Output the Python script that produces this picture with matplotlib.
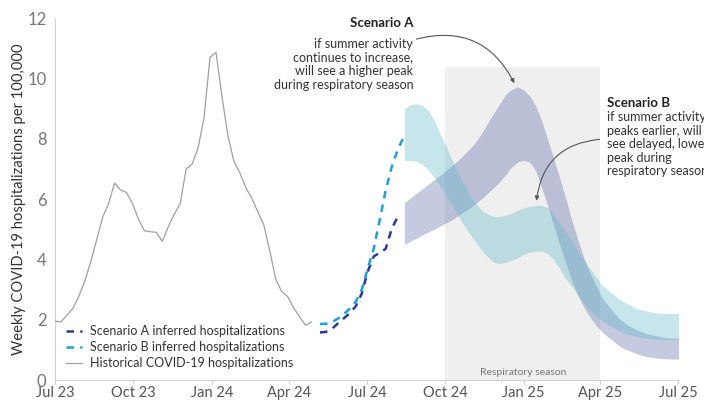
import numpy as np
import pandas as pd
import matplotlib
matplotlib.use("Agg")
import matplotlib.pyplot as plt
import matplotlib.dates as mdates

plt.rcParams["font.family"] = ["Lato", "DejaVu Sans"]

# historical weekly hospitalizations, Jul 2023 - Apr 2024
hist_dates = pd.date_range("2023-07-01", periods=44, freq="7D")
hist_vals = [1.96, 1.93, 2.15, 2.37, 2.78, 3.27, 3.92, 4.65, 5.4, 5.85,
             6.53, 6.3, 6.22, 5.85, 5.34, 4.95, 4.92, 4.9, 4.6, 5.08,
             5.5, 5.85, 7.0, 7.16, 7.7, 8.7, 10.7, 10.86, 9.4, 8.1,
             7.25, 6.87, 6.38, 6.03, 5.58, 5.15, 4.3, 3.35, 2.94, 2.77,
             2.4, 2.1, 1.82, 1.93]

# inferred hospitalizations, May - Aug 2024
inf_dates = pd.date_range("2024-05-07", periods=15, freq="7D")
scen_a_inferred = [1.58, 1.6, 1.7, 1.88, 2.05, 2.22, 2.45, 2.87, 3.6, 4.1,
                   4.22, 4.35, 5.0, 5.41]
scen_b_inferred = [1.86, 1.87, 1.92, 2.04, 2.19, 2.37, 2.6, 3.0, 3.7, 4.35,
                   5.3, 6.28, 7.05, 7.62, 8.05]

# projection ranges, Aug 2024 - Jul 2025
proj_dates = pd.date_range("2024-08-14", periods=47, freq="7D")
scen_a_upper = [5.88, 6.04, 6.19, 6.34, 6.49, 6.64, 6.79, 6.95, 7.12, 7.28,
                7.48, 7.68, 7.9, 8.2, 8.53, 8.85, 9.17, 9.47, 9.64, 9.72,
                9.62, 9.42, 9.1, 8.6, 8.0, 7.35, 6.72, 6.05, 5.35, 4.7,
                4.1, 3.6, 3.18, 2.78, 2.5, 2.27, 2.05, 1.88, 1.76, 1.66,
                1.58, 1.52, 1.48, 1.44, 1.41, 1.39, 1.38]
scen_a_lower = [4.49, 4.6, 4.7, 4.81, 4.91, 5.0, 5.11, 5.21, 5.32, 5.45,
                5.58, 5.71, 5.86, 6.02, 6.2, 6.38, 6.58, 6.82, 7.07, 7.23,
                7.29, 7.22, 6.95, 6.4, 5.8, 5.15, 4.5, 3.92, 3.32, 2.85,
                2.45, 2.12, 1.85, 1.63, 1.45, 1.3, 1.13, 1.03, 0.95, 0.87,
                0.81, 0.77, 0.74, 0.72, 0.71, 0.7, 0.7]
scen_b_upper = [9.0, 9.12, 9.17, 9.1, 8.95, 8.6, 8.16, 7.75, 7.3, 6.87,
                6.48, 6.1, 5.85, 5.62, 5.5, 5.42, 5.42, 5.47, 5.53, 5.64,
                5.71, 5.76, 5.79, 5.79, 5.72, 5.5, 5.2, 4.93, 4.65, 4.33,
                4.0, 3.72, 3.45, 3.18, 3.0, 2.84, 2.68, 2.57, 2.47, 2.37,
                2.31, 2.27, 2.24, 2.21, 2.21, 2.21, 2.21]
scen_b_lower = [7.28, 7.28, 7.25, 7.15, 6.97, 6.72, 6.42, 6.1, 5.8, 5.45,
                5.13, 4.83, 4.57, 4.3, 4.08, 3.9, 3.86, 3.9, 3.97, 4.06,
                4.17, 4.24, 4.27, 4.28, 4.2, 4.0, 3.7, 3.38, 3.12, 2.84,
                2.56, 2.33, 2.15, 1.98, 1.85, 1.74, 1.63, 1.55, 1.49, 1.44,
                1.4, 1.38, 1.36, 1.35, 1.34, 1.34, 1.34]

season_start = pd.Timestamp("2024-10-01")
season_end = pd.Timestamp("2025-04-01")
season_top = 10.37

fig = plt.figure(figsize=(7.04, 4.01), dpi=100)
ax = fig.add_axes([0.078, 0.052, 0.885, 0.903])

# respiratory season box
ax.fill_between([season_start, season_end], 0, season_top, color="#efefef",
                lw=0, zorder=0)
ax.text(season_start + (season_end - season_start) / 2, 0.27, "Respiratory season",
        ha="center", va="center", fontsize=7.5, color="#777777", zorder=1)

ax.fill_between(proj_dates, scen_a_lower, scen_a_upper, color="#5a68a8",
                alpha=0.35, lw=0, zorder=2)
ax.fill_between(proj_dates, scen_b_lower, scen_b_upper, color="#5fb8c9",
                alpha=0.35, lw=0, zorder=3)

ax.plot(inf_dates[:len(scen_a_inferred)], scen_a_inferred, color="#2a3a9c",
        lw=1.8, ls=(0, (3, 2.5)), label="Scenario A inferred hospitalizations",
        zorder=4)
ax.plot(inf_dates, scen_b_inferred, color="#1e9fd6", lw=1.8, ls=(0, (3, 2.5)),
        label="Scenario B inferred hospitalizations", zorder=4)
ax.plot(hist_dates, hist_vals, color="#a0a0a0", lw=0.9,
        label="Historical COVID-19 hospitalizations", zorder=4)

ax.set_xlim(pd.Timestamp("2023-07-01"), pd.Timestamp("2025-07-01"))
ax.set_ylim(0, 12)
ax.set_yticks(range(0, 13, 2))
ax.xaxis.set_major_locator(mdates.MonthLocator(bymonth=[1, 4, 7, 10]))
ax.xaxis.set_major_formatter(mdates.DateFormatter("%b %y"))

for side in ["top", "right"]:
    ax.spines[side].set_visible(False)
for side in ["left", "bottom"]:
    ax.spines[side].set_color("#d0d0d0")
ax.tick_params(axis="x", colors="#d0d0d0", labelcolor="#555555", labelsize=10.5,
               length=3, pad=1.5)
ax.tick_params(axis="y", length=0, labelcolor="#777777", labelsize=12, pad=6)
ax.set_ylabel("Weekly COVID-19 hospitalizations per 100,000", fontsize=10.6,
              color="#333333")
ax.yaxis.set_label_coords(-0.047, 0.5)

leg = ax.legend(loc="lower left", bbox_to_anchor=(0.0, 0.0), frameon=False,
                fontsize=9, handlelength=1.3, labelspacing=0.3,
                handletextpad=0.6, labelcolor="#333333")

# annotations
fig.text(0.587, 0.943, "Scenario A", ha="right", va="center", fontsize=9.5,
         fontweight="bold", color="#222222")
fig.text(0.587, 0.905, "if summer activity\ncontinues to increase,\nwill see a higher peak\nduring respiratory season",
         ha="right", va="top", fontsize=9, color="#333333", linespacing=1.15)
ax.annotate("", xy=(pd.Timestamp("2024-12-21"), 9.84),
            xytext=(pd.Timestamp("2024-08-28"), 11.3),
            arrowprops=dict(arrowstyle="-|>", color="#555555", lw=0.8,
                            mutation_scale=6, shrinkA=0, shrinkB=0,
                            connectionstyle="arc3,rad=-0.4"),
            annotation_clip=False)

fig.text(0.862, 0.743, "Scenario B", ha="left", va="center", fontsize=9.5,
         fontweight="bold", color="#222222")
fig.text(0.862, 0.722, "if summer activity\npeaks earlier, will\nsee delayed, lower\npeak during\nrespiratory season",
         ha="left", va="top", fontsize=9, color="#333333", linespacing=1.15)
ax.annotate("", xy=(pd.Timestamp("2025-01-16"), 5.95),
            xytext=(pd.Timestamp("2025-03-31"), 7.98),
            arrowprops=dict(arrowstyle="-|>", color="#555555", lw=0.8,
                            mutation_scale=6, shrinkA=0, shrinkB=0,
                            connectionstyle="arc3,rad=0.4"),
            annotation_clip=False)

fig.savefig("out.png", dpi=100)
